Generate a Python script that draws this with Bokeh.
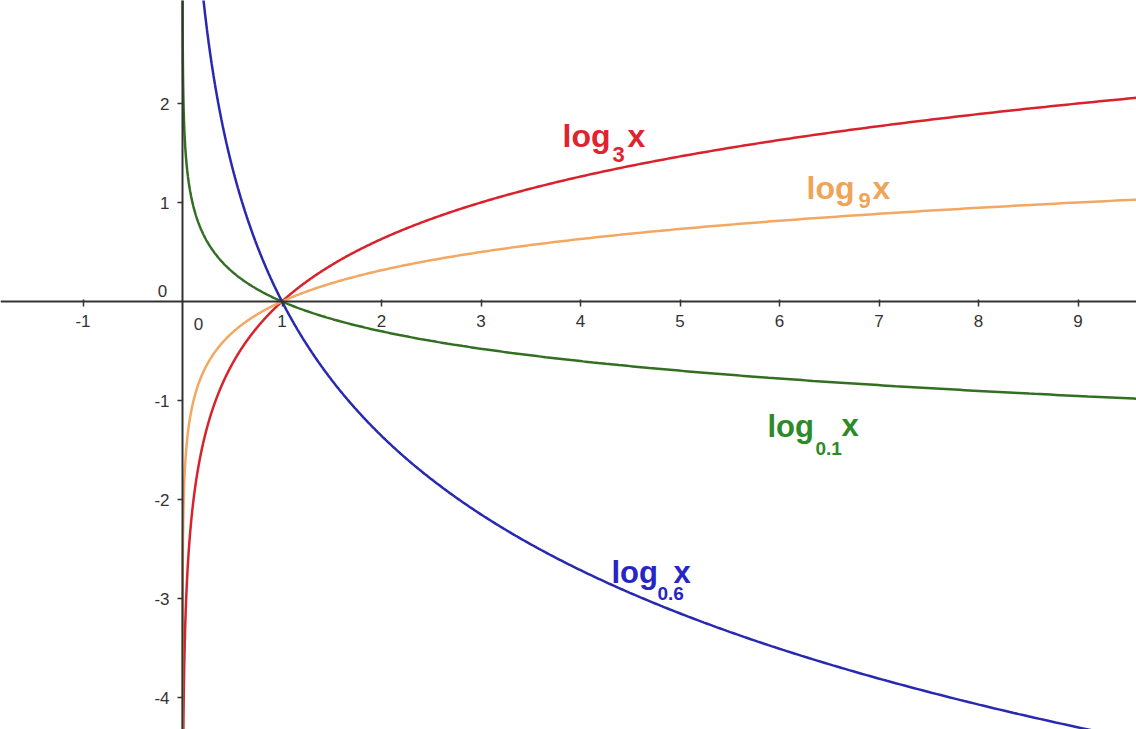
import numpy as np
from bokeh.plotting import figure
from bokeh.models import FixedTicker, Range1d, Label, ColumnDataSource
from bokeh.embed import file_html
from bokeh.resources import INLINE

# ---- data ----
series_names = ["log3", "log9", "log0.1", "log0.6"]
bases = [3, 9, 0.1, 0.6]
label_main = ["log", "log", "log", "log"]
label_sub = ["3", "9", "0.1", "0.6"]
line_colors = ["#d8222c", "#f3a862", "#336f22", "#2828b0"]
text_colors = ["#e0232f", "#f0a458", "#2c8a28", "#2626c8"]
x_ticks = [-1, 1, 2, 3, 4, 5, 6, 7, 8, 9]
y_ticks = [-4, -3, -2, -1, 1, 2]

# reference pixel mapping
PX_X0, PX_SX = 182.0, 99.5
PX_Y0, PX_SY = 301.0, 99.0
def dx(px):
    return (px - PX_X0) / PX_SX
def dy(py):
    return (PX_Y0 - py) / PX_SY

W, H = 1136, 729
p = figure(width=W, height=H, output_backend="svg", toolbar_location=None,
           x_range=Range1d(dx(0), dx(W)), y_range=Range1d(dy(H), dy(0)),
           min_border=0, background_fill_color="white", border_fill_color="white")
p.outline_line_color = None
p.grid.visible = False

for ax in (p.xaxis[0], p.yaxis[0]):
    ax.fixed_location = 0
    ax.axis_line_color = "#333333"
    ax.axis_line_width = 2
    ax.major_tick_line_color = "#333333"
    ax.major_tick_line_width = 1.5
    ax.minor_tick_line_color = None
    ax.major_label_text_font = "Liberation Sans"
    ax.major_label_text_font_size = "17px"
    ax.major_label_text_color = "#333333"

p.xaxis[0].ticker = FixedTicker(ticks=x_ticks)
p.yaxis[0].ticker = FixedTicker(ticks=y_ticks)
p.xaxis[0].major_label_overrides = {t: str(t) for t in x_ticks}
p.yaxis[0].major_label_overrides = {t: str(t) for t in y_ticks}
p.xaxis[0].major_tick_in = 2
p.xaxis[0].major_tick_out = 5
p.xaxis[0].major_label_standoff = 8
p.yaxis[0].major_tick_in = 0
p.yaxis[0].major_tick_out = 5
p.yaxis[0].major_label_standoff = 8

# zero labels
p.add_layout(Label(x=0, y=0, text="0", x_offset=16, y_offset=-22,
                   text_font="Liberation Sans", text_font_size="17px",
                   text_color="#333333", text_align="center", text_baseline="middle"))
p.add_layout(Label(x=0, y=0, text="0", x_offset=-20, y_offset=11,
                   text_font="Liberation Sans", text_font_size="17px",
                   text_color="#333333", text_align="center", text_baseline="middle"))

# curves
xs = np.geomspace(1e-7, 9.8, 3000)
for name, b, c in zip(series_names, bases, line_colors):
    ys = np.log(xs) / np.log(b)
    src = ColumnDataSource(dict(x=xs, y=ys))
    p.line("x", "y", source=src, line_color=c, line_width=2.5, name=name)

# curve labels: (log left, baseline), (sub left, baseline), (x left, baseline)
label_px = [
    ((562, 135), (612, 154), (627, 135)),
    ((806, 187), (858, 200), (872, 187)),
    ((767, 426), (815, 448), (841, 425)),
    ((611, 572), (657, 593), (673, 572)),
]
main_sizes = ["32px", "32px", "31px", "31px"]
sub_sizes = ["22px", "22px", "19px", "19px"]
for (m, s, xx), main, sub, col, ms, ss in zip(label_px, label_main, label_sub,
                                             text_colors, main_sizes, sub_sizes):
    for (px, py), txt, fs in ((m, main, ms), (s, sub, ss), (xx, "x", ms)):
        p.add_layout(Label(x=dx(px), y=dy(py), text=txt, text_font="Liberation Sans",
                           text_font_size=fs, text_font_style="bold", text_color=col,
                           text_align="left", text_baseline="alphabetic"))

open("out.html", "w").write(file_html(p, INLINE))
